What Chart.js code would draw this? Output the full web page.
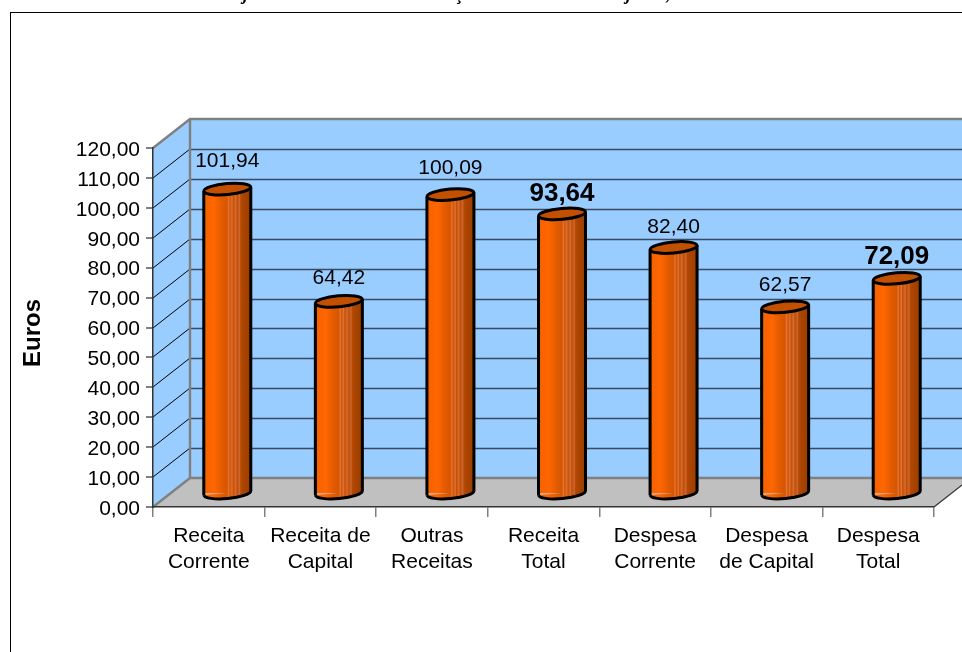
<!DOCTYPE html>
<html>
<head>
<meta charset="utf-8">
<script src="https://cdn.jsdelivr.net/npm/chart.js@4/dist/chart.umd.min.js"></script>
<style>
  html,body{margin:0;padding:0;background:#fff;overflow:hidden}
  canvas{display:block}
</style>
</head>
<body>
<canvas id="c" width="962" height="652"></canvas>
<script>
const categories = [['Receita','Corrente'],['Receita de','Capital'],['Outras','Receitas'],['Receita','Total'],['Despesa','Corrente'],['Despesa','de Capital'],['Despesa','Total']];
const values = [101.94,64.42,100.09,93.64,82.40,62.57,72.09];
const yTickLabels = ['0,00','10,00','20,00','30,00','40,00','50,00','60,00','70,00','80,00','90,00','100,00','110,00','120,00'];
const boldBars = [3,6];
const labelLift = [28,23,26,20,20,22,22];
const titleScraps = [['j',243],['ç',456],['j',626],[',',666]];

const FONT = '"Liberation Sans", Arial, sans-serif';
const DEPTH_X = 37, DEPTH_Y = 29;      // wall depth
const BAR_DX = 18.5, BAR_DY = -13;     // bars stand half way back
const BAR_W = 47;
const STOPS = [[0,'#e65c00'],[.06,'#f76300'],[.22,'#ff6600'],[.4,'#e05a00'],[.5,'#d65600'],[.53,'#e6743a'],[.56,'#d05400'],[.6,'#de7238'],[.63,'#c85000'],[.68,'#d66c36'],[.71,'#c04d00'],[.76,'#cc6632'],[.79,'#b54900'],[.85,'#aa4400'],[1,'#993d00']];

function barGradient(c){
  const chart = c.chart, sc = chart.scales.x;
  const cx = sc ? sc.getPixelForValue(c.dataIndex) : NaN;
  if(!Number.isFinite(cx)) return '#d65600';
  const x = cx - BAR_W/2;
  const g = chart.ctx.createLinearGradient(x,0,x+BAR_W,0);
  STOPS.forEach(s=>g.addColorStop(s[0],s[1]));
  return g;
}

const walls = {
  id:'walls',
  afterLayout(chart){
    // Arial digits sit lower in the reference than the middle baseline gives
    const y = chart.scales.y, draw = y.drawLabels;
    y.drawLabels = function(area){
      chart.ctx.save(); chart.ctx.translate(0,2); draw.call(this,area); chart.ctx.restore();
    };
  },
  beforeDraw(chart){
    const {ctx,scales:{x,y}} = chart;
    const l=x.left, r=x.right, b=y.bottom, t=y.top;
    ctx.save();
    // outer frame
    ctx.strokeStyle='#000'; ctx.lineWidth=1;
    ctx.strokeRect(10.5,12.5,1000,700);
    // title is cut by the page edge
    ctx.fillStyle='#000'; ctx.font='italic bold 18px "Liberation Serif", serif'; ctx.textBaseline='alphabetic';
    titleScraps.forEach(s=>ctx.fillText(s[0],s[1],0));
    // side wall
    ctx.fillStyle='#99ccff';
    ctx.beginPath(); ctx.moveTo(l,b); ctx.lineTo(l,t); ctx.lineTo(l+DEPTH_X,t-DEPTH_Y); ctx.lineTo(l+DEPTH_X,b-DEPTH_Y); ctx.closePath(); ctx.fill();
    // back wall
    ctx.fillRect(l+DEPTH_X,t-DEPTH_Y,r-l,b-t);
    // floor
    ctx.fillStyle='#c0c0c0';
    ctx.beginPath(); ctx.moveTo(l,b); ctx.lineTo(r,b); ctx.lineTo(r+DEPTH_X,b-DEPTH_Y); ctx.lineTo(l+DEPTH_X,b-DEPTH_Y); ctx.closePath(); ctx.fill();
    // grid lines
    yTickLabels.forEach((_,i)=>{
      if(i===0 || i===yTickLabels.length-1) return;
      const py = Math.round(y.getPixelForValue(i*10));
      ctx.strokeStyle='#000'; ctx.lineWidth=1;
      ctx.beginPath(); ctx.moveTo(l,py); ctx.lineTo(l+DEPTH_X,py-DEPTH_Y); ctx.stroke();
      ctx.strokeStyle='#3a4a60'; ctx.lineWidth=1.4;
      ctx.beginPath(); ctx.moveTo(l+DEPTH_X,py-DEPTH_Y+.5); ctx.lineTo(r+DEPTH_X,py-DEPTH_Y+.5); ctx.stroke();
    });
    // wall edges
    ctx.strokeStyle='#808080'; ctx.lineWidth=2.4;
    ctx.beginPath();
    ctx.moveTo(l,t); ctx.lineTo(l+DEPTH_X,t-DEPTH_Y); ctx.lineTo(r+DEPTH_X,t-DEPTH_Y);
    ctx.moveTo(l+DEPTH_X,t-DEPTH_Y); ctx.lineTo(l+DEPTH_X,b-DEPTH_Y); ctx.lineTo(r+DEPTH_X,b-DEPTH_Y);
    ctx.moveTo(l,b); ctx.lineTo(l+DEPTH_X,b-DEPTH_Y);
    ctx.stroke();
    ctx.strokeStyle='#333'; ctx.lineWidth=1.2;
    ctx.beginPath(); ctx.moveTo(r,b); ctx.lineTo(r+DEPTH_X,b-DEPTH_Y); ctx.stroke();
    ctx.restore();
  }
};

const cylinders = {
  id:'cylinders',
  beforeDatasetDraw(chart){
    chart.ctx.save();
    chart.ctx.translate(BAR_DX,BAR_DY);
  },
  afterDatasetDraw(chart,args){
    const ctx = chart.ctx;
    args.meta.data.forEach((el,i)=>{
      const p = el.getProps(['x','y','base','width'],true);
      const rx = p.width/2, ry = 5.5, tilt = -0.09;
      const sag = rx*Math.sin(tilt);
      // round foot
      ctx.beginPath(); ctx.ellipse(p.x,p.base,rx,ry,tilt,0,Math.PI); ctx.closePath();
      ctx.fillStyle = barGradient({chart,dataIndex:i}); ctx.fill();
      ctx.strokeStyle='#000'; ctx.lineWidth=3;
      ctx.beginPath(); ctx.ellipse(p.x,p.base,rx,ry,tilt,0,Math.PI); ctx.stroke();
      // sides
      ctx.beginPath();
      ctx.moveTo(p.x-rx,p.y-sag); ctx.lineTo(p.x-rx,p.base-sag);
      ctx.moveTo(p.x+rx,p.y+sag); ctx.lineTo(p.x+rx,p.base+sag);
      ctx.stroke();
      // top cap
      ctx.beginPath(); ctx.ellipse(p.x,p.y,rx,ry,tilt,0,Math.PI*2);
      ctx.fillStyle='#c25000'; ctx.fill(); ctx.stroke();
    });
    ctx.restore();
  },
  afterDatasetsDraw(chart){
    const ctx = chart.ctx;
    ctx.save();
    ctx.fillStyle='#000'; ctx.textAlign='center'; ctx.textBaseline='middle';
    chart.getDatasetMeta(0).data.forEach((el,i)=>{
      ctx.font = boldBars.includes(i) ? 'bold 26px '+FONT : '21px '+FONT;
      ctx.fillText(values[i].toFixed(2).replace('.',','), el.x+BAR_DX, el.y+BAR_DY-labelLift[i]);
    });
    // axis name
    ctx.translate(33,333); ctx.rotate(-Math.PI/2);
    ctx.font='bold 24px '+FONT;
    ctx.fillText('Euros',0,0);
    ctx.restore();
  }
};

new Chart(document.getElementById('c'),{
  type:'bar',
  data:{labels:categories,datasets:[{data:values,backgroundColor:barGradient,borderWidth:0,barThickness:BAR_W}]},
  options:{
    responsive:false,
    animation:false,
    layout:{padding:{top:148,right:28,left:0,bottom:0}},
    plugins:{legend:{display:false},tooltip:{enabled:false},title:{display:false}},
    scales:{
      x:{
        afterFit(s){s.height=145},
        grid:{drawOnChartArea:false,color:'#808080',lineWidth:1.5,tickLength:10},
        border:{color:'#333',width:1.5},
        ticks:{color:'#000',font:{family:FONT,size:21,lineHeight:1.24},padding:6,maxRotation:0,minRotation:0,autoSkip:false}
      },
      y:{
        min:0,max:120,
        afterFit(s){s.width=153},
        grid:{drawOnChartArea:false,color:'#808080',lineWidth:2,tickLength:7},
        border:{color:'#333',width:1.5},
        ticks:{color:'#000',stepSize:10,font:{family:FONT,size:21},padding:6,callback:(v,i)=>yTickLabels[i]}
      }
    }
  },
  plugins:[walls,cylinders]
});
</script>
</body>
</html>
